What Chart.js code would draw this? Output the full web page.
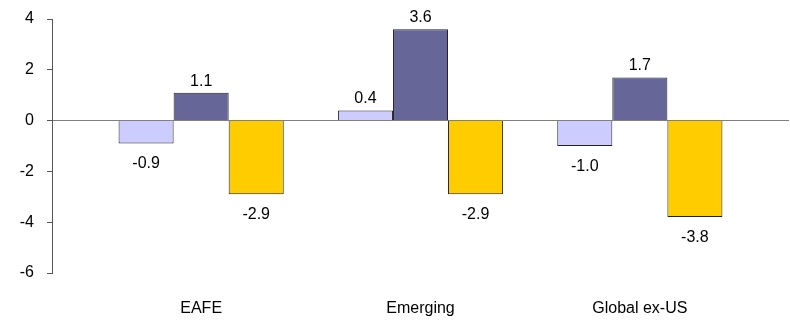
<!DOCTYPE html>
<html>
<head>
<meta charset="utf-8">
<script src="https://cdn.jsdelivr.net/npm/chart.js@4"></script>
<style>
  html, body { margin: 0; padding: 0; background: #fff; }
  #wrap { width: 790px; height: 322px; }
</style>
</head>
<body>
<div id="wrap"><canvas id="returnsChart"></canvas></div>
<script>
// values
const categories = ['EAFE', 'Emerging', 'Global ex-US'];
const series1 = [-0.9, 0.4, -1.0];
const series2 = [1.1, 3.6, 1.7];
const series3 = [-2.9, -2.9, -3.8];
const yTicks = [-6, -4, -2, 0, 2, 4];

const FONT = "'Liberation Sans', Arial, sans-serif";

function toPoints(values) {
  return values.map((v, i) => ({ x: i, y: v }));
}

// labels above positive bars, below negative ones
const barLabels = {
  id: 'barLabels',
  afterDatasetsDraw(chart) {
    const ctx = chart.ctx;
    ctx.save();
    ctx.font = '16px ' + FONT;
    ctx.fillStyle = '#000';
    ctx.textAlign = 'center';
    ctx.textBaseline = 'alphabetic';
    chart.data.datasets.forEach((ds, di) => {
      chart.getDatasetMeta(di).data.forEach((bar, i) => {
        const v = ds.data[i].y;
        const y = v >= 0 ? bar.y - 7 : bar.y + 25;
        ctx.fillText(v.toFixed(1), bar.x, y);
      });
    });
    ctx.restore();
  }
};

const ctx = document.getElementById('returnsChart').getContext('2d');
new Chart(ctx, {
  type: 'bar',
  data: {
    datasets: [
      { data: toPoints(series1), backgroundColor: '#CCCCFF', borderColor: '#222', borderWidth: 1 },
      { data: toPoints(series2), backgroundColor: '#666699', borderColor: '#222', borderWidth: 1 },
      { data: toPoints(series3), backgroundColor: '#FFCC00', borderColor: '#222', borderWidth: 1 }
    ]
  },
  options: {
    responsive: true,
    maintainAspectRatio: false,
    animation: false,
    layout: { padding: { top: 19, right: 1, left: 0, bottom: 0 } },
    datasets: { bar: { barPercentage: 1, categoryPercentage: 0.753 } },
    plugins: { legend: { display: false }, tooltip: { enabled: false } },
    scales: {
      x: {
        type: 'linear',
        offset: false,
        min: -0.68,
        max: 2.68,
        grid: { display: false },
        border: { display: false },
        afterBuildTicks: scale => { scale.ticks = categories.map((c, i) => ({ value: i })); },
        afterFit: scale => { scale.height = 49; },
        ticks: {
          padding: 18,
          color: '#000',
          font: { family: FONT, size: 16 },
          maxRotation: 0,
          callback: v => categories[v]
        }
      },
      y: {
        min: -6,
        max: 4,
        afterBuildTicks: scale => { scale.ticks = yTicks.map(v => ({ value: v })); },
        afterFit: scale => { scale.width = 52; scale.paddingTop = 0; scale.paddingBottom = 0; },
        border: { display: true, color: '#555', width: 1 },
        grid: {
          drawTicks: true,
          tickLength: 5,
          tickColor: '#555',
          color: c => (c.tick && c.tick.value === 0 ? '#808080' : 'rgba(0,0,0,0)')
        },
        ticks: {
          padding: 13,
          color: '#000',
          font: { family: FONT, size: 16 }
        }
      }
    }
  },
  plugins: [barLabels]
});
</script>
</body>
</html>
